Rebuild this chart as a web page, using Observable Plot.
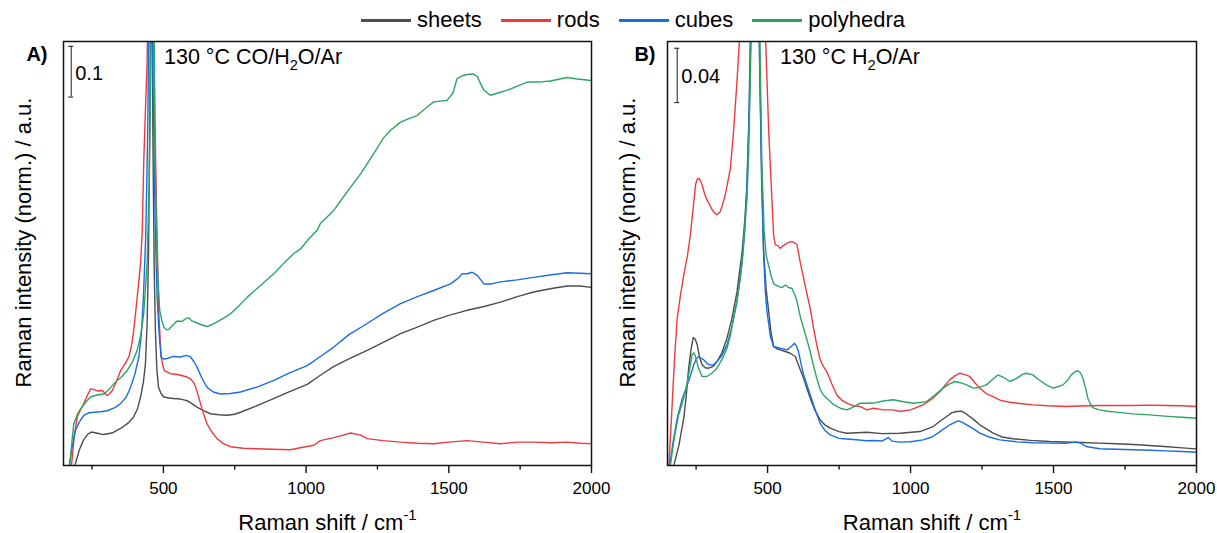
<!DOCTYPE html>
<html>
<head>
<meta charset="utf-8">
<script src="https://cdn.jsdelivr.net/npm/d3@7"></script>
<script src="https://cdn.jsdelivr.net/npm/@observablehq/plot@0.6"></script>
<style>
  html, body { margin: 0; padding: 0; background: #fff; }
  #wrap { position: relative; width: 1217px; height: 533px; font-family: "Liberation Sans", Arial, sans-serif; color: #000; }
  #legend { position: absolute; left: 361px; top: 7px; display: flex; align-items: center; font-size: 22px; white-space: nowrap; }
  #legend .item { display: flex; align-items: center; margin-right: 19px; }
  #legend .sw { width: 50px; height: 3px; margin-right: 6px; }
  .panel { position: absolute; top: 0; }
</style>
</head>
<body>
<div id="wrap">
  <div id="legend"></div>
  <div id="panelA" class="panel" style="left:0px"></div>
  <div id="panelB" class="panel" style="left:608px"></div>
</div>
<script>
// ---------- series / axis definitions ----------
const seriesNames  = ["sheets", "rods", "cubes", "polyhedra"];
const seriesColors = ["#4d4d4d", "#ee3a3f", "#1b6de3", "#2ca562"];
const xTicks       = [500, 1000, 1500, 2000];
const xMinorTicks  = [250, 750, 1250, 1750];
const xTitle       = "Raman shift / cm^{-1}";
const yTitle       = "Raman intensity (norm.) / a.u.";

// ---------- Panel A: 130 °C CO/H2O/Ar  [Raman shift (cm-1), normalised intensity] ----------
const aTitle = "130 °C CO/H_{2}O/Ar";
const aLetter = "A)";
const aScaleBar = { shift: 177, from: 0.7264, length: 0.1, label: "0.1" };
const aSheets = [[190,0.0],[205,0.03],[220,0.05],[235,0.062],[248,0.066],[265,0.064],[290,0.061],[320,0.064],[350,0.073],[375,0.083],[395,0.095],[410,0.113],[420,0.135],[430,0.165],[437,0.20],[443,0.28],[448,0.42],[452,0.65],[456,1.0],[460,0.9],[464,0.6],[468,0.38],[472,0.266],[477,0.19],[483,0.154],[492,0.142],[501,0.135],[520,0.133],[535,0.132],[560,0.131],[583,0.128],[600,0.122],[618,0.115],[640,0.108],[665,0.102],[695,0.100],[723,0.099],[750,0.101],[770,0.105],[820,0.116],[886,0.132],[940,0.145],[1004,0.160],[1050,0.178],[1096,0.195],[1150,0.210],[1214,0.227],[1270,0.243],[1331,0.260],[1390,0.273],[1447,0.286],[1500,0.296],[1564,0.306],[1620,0.313],[1681,0.322],[1740,0.333],[1797,0.342],[1860,0.349],[1915,0.354],[1960,0.354],[2000,0.351]];
const aRods = [[178,0.0],[188,0.06],[198,0.095],[210,0.110],[221,0.122],[235,0.140],[245,0.151],[256,0.150],[268,0.147],[286,0.148],[303,0.138],[312,0.142],[321,0.148],[335,0.165],[350,0.187],[365,0.200],[379,0.214],[388,0.235],[396,0.266],[408,0.33],[420,0.398],[426,0.464],[431,0.595],[437,0.70],[443,0.792],[448,1.0],[462,1.0],[469,0.726],[476,0.50],[484,0.299],[492,0.214],[498,0.197],[504,0.187],[525,0.181],[545,0.180],[560,0.178],[580,0.175],[595,0.171],[609,0.161],[620,0.142],[630,0.122],[642,0.100],[653,0.082],[670,0.066],[688,0.053],[710,0.043],[735,0.037],[780,0.034],[829,0.033],[880,0.032],[945,0.031],[980,0.035],[1027,0.040],[1050,0.049],[1097,0.055],[1130,0.060],[1156,0.064],[1191,0.060],[1214,0.053],[1270,0.049],[1331,0.046],[1390,0.044],[1447,0.043],[1500,0.046],[1564,0.049],[1620,0.046],[1681,0.043],[1740,0.046],[1797,0.046],[1860,0.045],[1915,0.046],[1960,0.044],[2000,0.043]];
const aCubes = [[170,0.0],[180,0.035],[192,0.069],[205,0.085],[221,0.099],[240,0.104],[256,0.105],[280,0.106],[303,0.108],[330,0.114],[350,0.122],[370,0.135],[385,0.154],[400,0.18],[414,0.214],[423,0.26],[430,0.332],[438,0.45],[445,0.65],[451,1.0],[458,1.0],[465,0.7],[472,0.45],[478,0.332],[485,0.26],[492,0.214],[500,0.210],[513,0.211],[535,0.215],[560,0.214],[580,0.217],[595,0.214],[607,0.205],[618,0.194],[635,0.172],[653,0.154],[675,0.145],[700,0.141],[735,0.142],[770,0.145],[830,0.155],[887,0.168],[940,0.182],[1004,0.197],[1050,0.215],[1096,0.233],[1150,0.258],[1214,0.280],[1270,0.300],[1331,0.319],[1390,0.333],[1447,0.345],[1506,0.358],[1530,0.368],[1547,0.378],[1565,0.378],[1582,0.381],[1600,0.375],[1623,0.358],[1650,0.358],[1681,0.362],[1740,0.366],[1797,0.371],[1860,0.376],[1915,0.380],[1960,0.379],[2000,0.378]];
const aPolyhedra = [[172,0.0],[180,0.05],[186,0.082],[198,0.10],[210,0.112],[228,0.125],[245,0.135],[268,0.139],[291,0.141],[310,0.15],[326,0.161],[350,0.173],[373,0.187],[392,0.205],[408,0.227],[420,0.255],[431,0.299],[443,0.398],[450,0.55],[456,0.8],[461,1.0],[466,1.0],[471,0.6],[478,0.40],[487,0.306],[495,0.285],[501,0.273],[510,0.268],[519,0.268],[535,0.278],[548,0.285],[565,0.284],[580,0.290],[589,0.291],[600,0.285],[618,0.281],[635,0.277],[653,0.274],[670,0.278],[688,0.283],[710,0.290],[735,0.299],[765,0.315],[794,0.332],[840,0.355],[887,0.378],[920,0.398],[957,0.418],[980,0.427],[1010,0.447],[1039,0.464],[1050,0.477],[1097,0.503],[1125,0.525],[1156,0.549],[1191,0.575],[1237,0.615],[1270,0.645],[1296,0.661],[1331,0.677],[1360,0.684],[1389,0.690],[1420,0.705],[1447,0.717],[1494,0.720],[1515,0.735],[1529,0.763],[1550,0.769],[1564,0.771],[1585,0.772],[1600,0.767],[1612,0.752],[1623,0.740],[1646,0.730],[1675,0.735],[1705,0.740],[1740,0.748],[1775,0.756],[1815,0.756],[1856,0.758],[1890,0.762],[1915,0.765],[1950,0.762],[2000,0.759]];

// ---------- Panel B: 130 °C H2O/Ar ----------
const bTitle = "130 °C H_{2}O/Ar";
const bLetter = "B)";
const bScaleBar = { shift: 184, from: 0.2674, length: 0.04, label: "0.04" };
const bSheets = [[172,0.0],[190,0.015],[207,0.035],[215,0.050],[224,0.0717],[232,0.085],[240,0.0943],[247,0.093],[254,0.0889],[262,0.080],[271,0.0742],[282,0.072],[294,0.0717],[310,0.073],[323,0.0766],[340,0.083],[358,0.0938],[375,0.108],[393,0.128],[411,0.1576],[420,0.18],[428,0.2068],[436,0.26],[442,0.33],[450,0.45],[458,0.5],[466,0.40],[472,0.30],[479,0.22],[486,0.1576],[495,0.130],[504,0.1134],[512,0.098],[521,0.0877],[532,0.086],[544,0.0852],[562,0.084],[579,0.0827],[597,0.0803],[610,0.073],[626,0.0643],[649,0.0496],[665,0.041],[684,0.0335],[700,0.030],[719,0.0275],[750,0.025],[777,0.0238],[847,0.0245],[900,0.0235],[963,0.0238],[1033,0.025],[1079,0.0287],[1105,0.033],[1126,0.0361],[1145,0.039],[1161,0.0398],[1178,0.040],[1196,0.0378],[1220,0.034],[1242,0.030],[1265,0.027],[1289,0.0238],[1320,0.021],[1358,0.0197],[1420,0.0185],[1486,0.0177],[1540,0.0173],[1602,0.0169],[1660,0.0165],[1719,0.016],[1780,0.0155],[1835,0.0147],[1900,0.0138],[1950,0.013],[2000,0.0122]];
const bRods = [[155,0.0],[165,0.04],[175,0.08],[184,0.1085],[195,0.125],[207,0.1405],[220,0.155],[230,0.170],[240,0.190],[248,0.2068],[254,0.211],[259,0.2117],[265,0.210],[271,0.2068],[280,0.200],[288,0.1957],[298,0.192],[306,0.1884],[315,0.186],[323,0.1847],[335,0.1871],[345,0.194],[352,0.1994],[360,0.208],[370,0.219],[381,0.246],[393,0.283],[402,0.315],[420,0.42],[440,0.55],[455,0.6],[470,0.48],[483,0.37],[493,0.315],[504,0.246],[515,0.197],[521,0.17],[527,0.1626],[536,0.162],[544,0.160],[555,0.162],[570,0.164],[585,0.165],[595,0.164],[603,0.1626],[614,0.15],[626,0.138],[637,0.127],[649,0.116],[660,0.102],[672,0.0889],[684,0.078],[695,0.073],[707,0.0692],[725,0.060],[742,0.052],[760,0.048],[777,0.0459],[800,0.044],[823,0.0435],[847,0.041],[870,0.0422],[905,0.041],[940,0.041],[963,0.0398],[1000,0.041],[1044,0.0447],[1075,0.049],[1103,0.0545],[1120,0.059],[1137,0.0631],[1155,0.066],[1172,0.068],[1190,0.067],[1207,0.0656],[1225,0.061],[1242,0.057],[1265,0.053],[1288,0.0508],[1315,0.048],[1347,0.0466],[1390,0.0455],[1428,0.0447],[1480,0.044],[1545,0.0435],[1600,0.0438],[1661,0.0442],[1720,0.0442],[1777,0.0442],[1840,0.0445],[1894,0.0442],[1950,0.044],[2000,0.0435]];
const bCubes = [[158,0.0],[170,0.018],[184,0.0348],[200,0.048],[219,0.0594],[230,0.066],[242,0.0742],[252,0.079],[259,0.0803],[268,0.079],[277,0.0778],[294,0.0742],[310,0.074],[323,0.0766],[340,0.081],[358,0.0889],[375,0.102],[393,0.1208],[411,0.150],[420,0.172],[426,0.1945],[434,0.25],[441,0.33],[449,0.45],[456,0.5],[464,0.42],[472,0.30],[479,0.21],[486,0.1576],[492,0.128],[498,0.1134],[510,0.095],[521,0.0877],[544,0.0864],[568,0.0852],[585,0.088],[594,0.090],[601,0.088],[608,0.084],[616,0.076],[626,0.0668],[649,0.0521],[665,0.042],[684,0.031],[700,0.026],[719,0.0225],[750,0.020],[777,0.0195],[810,0.019],[847,0.0182],[870,0.0184],[900,0.018],[922,0.0206],[935,0.018],[963,0.0172],[1000,0.0175],[1044,0.0189],[1075,0.021],[1103,0.025],[1137,0.030],[1166,0.0329],[1180,0.032],[1196,0.030],[1220,0.027],[1242,0.0238],[1275,0.021],[1312,0.0189],[1370,0.0175],[1428,0.0168],[1486,0.0165],[1540,0.0163],[1580,0.0172],[1595,0.0165],[1614,0.014],[1661,0.0123],[1720,0.012],[1777,0.0116],[1840,0.0112],[1894,0.0108],[1950,0.0103],[2000,0.0098]];
const bPolyhedra = [[160,0.0],[170,0.015],[180,0.028],[189,0.0373],[200,0.045],[213,0.0545],[225,0.068],[236,0.0815],[242,0.083],[248,0.0803],[258,0.072],[271,0.0656],[288,0.0656],[305,0.068],[323,0.0717],[340,0.078],[358,0.0864],[370,0.096],[381,0.1085],[393,0.122],[405,0.138],[414,0.158],[422,0.182],[428,0.197],[434,0.231],[442,0.31],[452,0.45],[460,0.5],[468,0.40],[474,0.30],[480,0.2215],[488,0.1724],[495,0.155],[503,0.1478],[512,0.140],[521,0.134],[537,0.132],[550,0.1311],[562,0.133],[575,0.131],[585,0.1306],[595,0.126],[603,0.1208],[614,0.11],[626,0.101],[637,0.093],[649,0.084],[660,0.074],[672,0.0643],[684,0.056],[695,0.052],[707,0.0496],[730,0.045],[754,0.0422],[777,0.041],[800,0.043],[823,0.0459],[847,0.0459],[870,0.046],[905,0.0475],[940,0.0484],[975,0.047],[1010,0.0459],[1056,0.0471],[1085,0.052],[1114,0.057],[1135,0.060],[1155,0.0619],[1175,0.061],[1196,0.0594],[1219,0.057],[1240,0.0575],[1265,0.0594],[1285,0.063],[1306,0.0668],[1325,0.065],[1347,0.0619],[1370,0.064],[1390,0.067],[1405,0.068],[1428,0.0668],[1450,0.063],[1475,0.0594],[1498,0.057],[1515,0.058],[1533,0.0594],[1550,0.063],[1562,0.0668],[1575,0.069],[1585,0.0698],[1595,0.068],[1603,0.0643],[1612,0.057],[1620,0.0496],[1630,0.045],[1637,0.0427],[1660,0.041],[1690,0.040],[1719,0.0393],[1780,0.038],[1835,0.0373],[1900,0.0362],[1950,0.0355],[2000,0.0348]];

// ---------- build tables ----------
function toRows(seriesArrays) {
  const rows = [];
  seriesArrays.forEach((arr, i) => arr.forEach(([shift, intensity]) => rows.push({series: seriesNames[i], shift, intensity})));
  return rows;
}
const rowsA = toRows([aSheets, aRods, aCubes, aPolyhedra]);
const rowsB = toRows([bSheets, bRods, bCubes, bPolyhedra]);

const FONT = "Liberation Sans, Arial, sans-serif";

function makePanel({rows, yMax, width, marginLeft, marginRight, title, titleDx, letter, letterDx, bar}) {
  const barY1 = bar.from, barY2 = bar.from + bar.length;
  const capHalf = 9;
  return Plot.plot({
    width, height: 533,
    marginLeft, marginRight, marginTop: 41, marginBottom: 68,
    style: {fontFamily: FONT, color: "#000", background: "transparent", overflow: "visible"},
    x: {domain: [150, 2000]},
    y: {domain: [0, yMax], axis: null},
    color: {domain: seriesNames, range: seriesColors},
    marks: [
      Plot.line(rows, {x: "shift", y: "intensity", z: "series", stroke: "series", strokeWidth: 1.4, clip: true}),
      Plot.axisX({ticks: xMinorTicks, tickSize: 4.5, tickFormat: () => "", label: null, stroke: "#111", strokeWidth: 1.4}),
      Plot.axisX({ticks: xTicks, tickSize: 8, tickPadding: 8, fontSize: 17, label: null, stroke: "#111", strokeWidth: 1.4, tickFormat: d => String(d)}),
      Plot.frame({stroke: "#111", strokeWidth: 1.5}),
      // scale bar
      Plot.ruleX([bar], {x: "shift", y1: () => barY1, y2: () => barY2, stroke: "#333", strokeWidth: 1.1}),
      Plot.ruleY([barY1, barY2], {y: d => d, x1: bar.shift - capHalf, x2: bar.shift + capHalf, stroke: "#333", strokeWidth: 1.1}),
      Plot.text([bar], {x: "shift", y: () => (barY1 + barY2) / 2, text: "label", dx: 4, dy: 1.5, textAnchor: "start", fontSize: 20, fill: "#000"}),
      // panel letter & condition title
      Plot.text([letter], {frameAnchor: "top-left", text: d => d, dx: letterDx, dy: 13, textAnchor: "end", lineAnchor: "middle", fontSize: 20, fontWeight: "bold", fill: "#000"}),
      Plot.text([title], {frameAnchor: "top-left", text: d => d, dx: titleDx, dy: 16, textAnchor: "start", lineAnchor: "middle", fontSize: 21.5, fill: "#000"}),
      // axis titles
      Plot.text([xTitle], {frameAnchor: "bottom", text: d => d, dy: 57, textAnchor: "middle", lineAnchor: "middle", fontSize: 22, fill: "#000"}),
      Plot.text([yTitle], {frameAnchor: "left", text: d => d, dx: -40, dy: -11, rotate: -90, textAnchor: "middle", lineAnchor: "middle", fontSize: 22, fill: "#000"})
    ]
  });
}

// turn _{..} and ^{..} markup into sub/superscript tspans
function richify(svg) {
  d3.select(svg).selectAll("text").each(function () {
    const t = this.textContent;
    if (!/[_^]\{/.test(t)) return;
    const fs = parseFloat(getComputedStyle(this).fontSize) || 20;
    const parts = t.split(/(_\{[^}]*\}|\^\{[^}]*\})/).filter(p => p.length);
    this.textContent = "";
    let shift = 0;
    for (const p of parts) {
      const ts = d3.select(this).append("tspan");
      if (p.startsWith("_{")) {
        const s = 0.28 * fs;
        ts.attr("dy", s - shift).attr("font-size", 0.68 * fs).text(p.slice(2, -1));
        shift = s;
      } else if (p.startsWith("^{")) {
        const s = -0.42 * fs;
        ts.attr("dy", s - shift).attr("font-size", 0.68 * fs).text(p.slice(2, -1));
        shift = s;
      } else {
        if (shift !== 0) ts.attr("dy", -shift);
        ts.text(p);
        shift = 0;
      }
    }
  });
}

const chartA = makePanel({rows: rowsA, yMax: 0.836, width: 608, marginLeft: 63, marginRight: 17,
  title: aTitle, titleDx: 100.5, letter: aLetter, letterDx: -16, bar: aScaleBar});
const chartB = makePanel({rows: rowsB, yMax: 0.3124, width: 609, marginLeft: 59, marginRight: 21,
  title: bTitle, titleDx: 112.5, letter: bLetter, letterDx: -12, bar: bScaleBar});
document.getElementById("panelA").appendChild(chartA);
document.getElementById("panelB").appendChild(chartB);
richify(chartA);
richify(chartB);

// legend
const legend = d3.select("#legend");
seriesNames.forEach((name, i) => {
  const item = legend.append("div").attr("class", "item");
  item.append("div").attr("class", "sw").style("background", seriesColors[i]);
  item.append("span").text(name);
});
</script>
</body>
</html>
